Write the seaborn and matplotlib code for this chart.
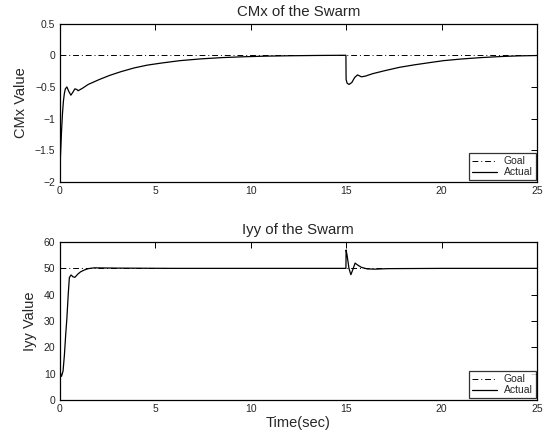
import numpy as np
import pandas as pd
import matplotlib
matplotlib.use('Agg')
import matplotlib.pyplot as plt
from matplotlib.ticker import FuncFormatter
import seaborn as sns

# values
cmx_time = [0, 0.05, 0.1, 0.15, 0.2, 0.25, 0.3, 0.38, 0.48, 0.59, 0.7, 0.8, 0.9, 0.97,
            1.2, 1.5, 2.1, 2.6, 3.2, 3.9, 4.6, 5.4, 6.3, 7.4, 8.5, 9.6, 10.8, 12, 13.5, 14.99,
            15.0, 15.05, 15.15, 15.3, 15.45, 15.6, 15.8, 16.0, 16.4, 17.0, 17.8, 18.6,
            19.4, 20.1, 21.0, 22.0, 23.1, 24.0, 25.0]
cmx_actual = [-1.85, -1.55, -1.2, -0.92, -0.72, -0.6, -0.53, -0.5, -0.57, -0.63, -0.58, -0.53, -0.54, -0.56,
              -0.52, -0.46, -0.38, -0.32, -0.26, -0.2, -0.155, -0.12, -0.085, -0.057, -0.037, -0.024, -0.014, -0.008, -0.003, 0.0,
              -0.38, -0.44, -0.46, -0.43, -0.35, -0.31, -0.34, -0.33, -0.29, -0.245, -0.19, -0.15,
              -0.115, -0.085, -0.06, -0.038, -0.02, -0.01, -0.004]
cmx_goal = 0.0

iyy_time = [0, 0.05, 0.1, 0.18, 0.25, 0.32, 0.38, 0.45, 0.51, 0.6, 0.7, 0.8, 0.95, 1.1,
            1.3, 1.5, 1.8, 3, 6, 10, 14.99, 15.0, 15.05, 15.15, 15.25, 15.35, 15.47,
            15.6, 15.8, 16.1, 16.5, 17.2, 20, 25]
iyy_actual = [13, 10, 9, 11, 17, 25, 31, 40, 46.5, 47.5, 46.8, 46.6, 47.8, 48.7,
              49.4, 49.9, 50.2, 50.1, 50.0, 50.0, 50.0, 57, 55, 50, 47.6, 49.5, 52,
              51.3, 50.4, 49.8, 49.7, 49.9, 50.0, 50.0]
iyy_goal = 50.0

t_end = 25

sns.set_style('white')
plt.rcParams['font.family'] = ['Liberation Sans', 'DejaVu Sans']

fig = plt.figure(figsize=(5.52, 4.4), dpi=100)
ax1 = fig.add_axes([0.108, 0.5864, 0.865, 0.36])
ax2 = fig.add_axes([0.108, 0.0909, 0.865, 0.359])

def fmt(v, pos):
    s = '%g' % v
    return s.replace('-', '\u2212')

panels = [
    (ax1, cmx_time, cmx_actual, cmx_goal, 'CMx of the Swarm', 'CMx Value', (-2, 0.5), np.arange(-2, 0.51, 0.5)),
    (ax2, iyy_time, iyy_actual, iyy_goal, 'Iyy of the Swarm', 'Iyy Value', (0, 60), np.arange(0, 61, 10)),
]

for ax, t, y, goal, title, ylabel, ylim, yticks in panels:
    df = pd.DataFrame({'t': [0, t_end] + list(t),
                       'v': [goal, goal] + list(y),
                       'kind': ['Goal', 'Goal'] + ['Actual'] * len(t)})
    sns.lineplot(data=df[df.kind == 'Goal'], x='t', y='v', ax=ax, color='black',
                 linestyle=(0, (6, 3, 1, 3)), linewidth=0.7, label='Goal')
    sns.lineplot(data=df[df.kind == 'Actual'], x='t', y='v', ax=ax, color='black',
                 linewidth=0.9, label='Actual', sort=False)
    ax.set_xlim(0, t_end)
    ax.set_ylim(*ylim)
    ax.set_xticks(np.arange(0, 26, 5))
    ax.set_yticks(yticks)
    ax.yaxis.set_major_formatter(FuncFormatter(fmt))
    ax.tick_params(direction='in', top=True, right=True, length=4, width=0.7,
                   labelsize=7.5, pad=3, color='black')
    for sp in ax.spines.values():
        sp.set_visible(True)
        sp.set_color('black')
        sp.set_linewidth(0.9)
    ax.set_title(title, fontsize=10.8, pad=5.5)
    ax.set_ylabel(ylabel, fontsize=10.5, labelpad=5)
    ax.set_xlabel('')
    leg = ax.legend(loc='lower right', fontsize=7.5, frameon=True, fancybox=False,
                    borderaxespad=0.15, handlelength=2.4, borderpad=0.3,
                    labelspacing=0.1, handletextpad=0.6)
    leg.get_frame().set_edgecolor('black')
    leg.get_frame().set_linewidth(0.9)

ax2.set_xlabel('Time(sec)', fontsize=10.5, labelpad=1)

fig.savefig('out.png', dpi=100)
